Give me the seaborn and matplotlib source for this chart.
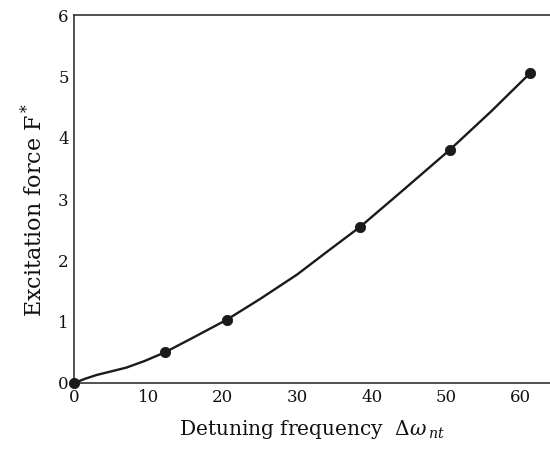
import numpy as np
import pandas as pd
import matplotlib
matplotlib.use('Agg')
import matplotlib.pyplot as plt
import seaborn as sns

# measured points (dots)
detuning = [0.0, 12.2, 20.5, 38.5, 50.5, 61.3]
force = [0.0, 0.5, 1.03, 2.55, 3.8, 5.05]

# smooth curve
curve_x = [0.0, 1.5, 3.0, 5.0, 7.0, 9.5, 12.2, 16.0, 20.5, 25.0, 30.0, 34.0, 38.5, 44.0, 50.5, 56.0, 61.3]
curve_y = [0.0, 0.07, 0.13, 0.19, 0.25, 0.36, 0.5, 0.74, 1.03, 1.37, 1.77, 2.14, 2.55, 3.12, 3.8, 4.42, 5.05]

xticks = [0, 10, 20, 30, 40, 50, 60]
yticks = [0, 1, 2, 3, 4, 5, 6]

sns.set_style('white')
plt.rcParams['font.family'] = ['DejaVu Serif']
plt.rcParams['mathtext.fontset'] = 'custom'
plt.rcParams['mathtext.rm'] = 'DejaVu Serif'
plt.rcParams['mathtext.it'] = 'DejaVu Serif:italic'

pts = pd.DataFrame({'x': detuning, 'y': force})
crv = pd.DataFrame({'x': curve_x, 'y': curve_y})

fig, ax = plt.subplots(figsize=(5.5, 4.57), dpi=100)
fig.subplots_adjust(left=0.135, right=1.0, top=0.967, bottom=0.162)

sns.lineplot(data=crv, x='x', y='y', color='#1a1a1a', lw=1.7, ax=ax)
sns.scatterplot(data=pts, x='x', y='y', color='#1a1a1a', s=55, edgecolor='#1a1a1a', zorder=3, ax=ax, clip_on=False)

ax.set_xlim(0, 64)
ax.set_ylim(0, 6)
ax.set_xticks(xticks)
ax.set_yticks(yticks)
ax.tick_params(direction='in', length=9, width=1.0, labelsize=12, colors='#111111', pad=4)
for s in ['left', 'bottom', 'top']:
    ax.spines[s].set_color('#333333')
    ax.spines[s].set_linewidth(1.2)
ax.spines['right'].set_visible(False)

ax.set_xlabel('Detuning frequency  $\\mathit{Δω}_{\\,\\mathit{nt}}$', fontsize=14.5, labelpad=9, color='#111111')
ax.set_ylabel(r'Excitation force F$^*$', fontsize=16, labelpad=9, color='#111111')
ax.yaxis.set_label_coords(-0.058, 0.47)

plt.savefig('out.png', dpi=100)
